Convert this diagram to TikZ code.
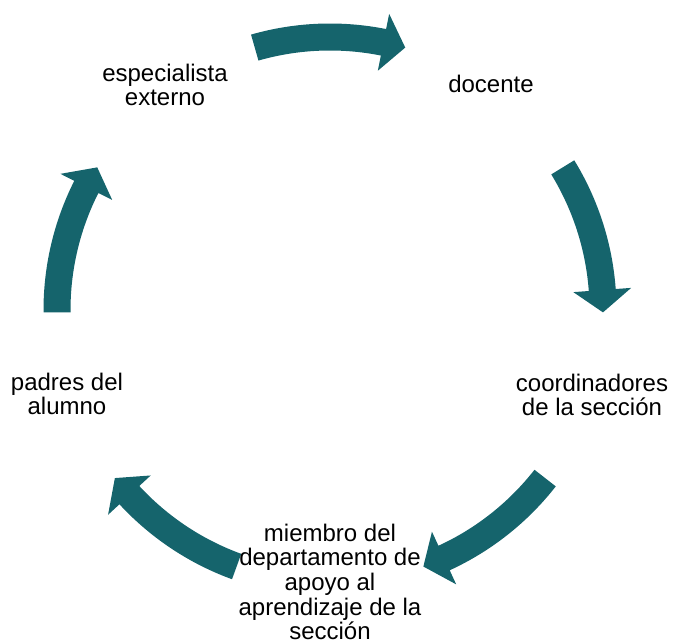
\documentclass[tikz,border=0pt]{standalone}
\usepackage{fontspec}
\setmainfont{Liberation Sans}
\definecolor{arrowteal}{RGB}{21,100,108}
\tikzset{
  lbl/.style={align=center, font=\fontsize{24}{24.6}\selectfont, inner sep=0pt},
  cyclearrow/.style={fill=arrowteal, draw=none}
}
\begin{document}
\begin{tikzpicture}[x=1pt,y=-1pt]
\useasboundingbox (0,0) rectangle (673,644);
% curved arrows on a circle centred at (330,310)
\begin{scope}[shift={(330,310)}]
\foreach \a in {-90,-15.5,54,126,195.5}{
  \fill[cyclearrow] (\a-16:259.5) arc[start angle=\a-16, end angle=\a+11.3, radius=259.5]
    -- (\a+11.3:244) -- (\a+16:273) -- (\a+11.3:302) -- (\a+11.3:286.5)
    arc[start angle=\a+11.3, end angle=\a-16, radius=286.5] -- cycle;
}
\end{scope}
\node[lbl] (docente) at (491,84) {docente};
\node[lbl] (coord) at (592,395) {coordinadores\\de la sección};
\node[lbl] (miembro) at (330,582) {miembro del\\departamento de\\apoyo al\\aprendizaje de la\\sección};
\node[lbl] (padres) at (67,394) {padres del\\alumno};
\node[lbl] (especialista) at (165,85) {especialista\\externo};
\end{tikzpicture}
\end{document}
